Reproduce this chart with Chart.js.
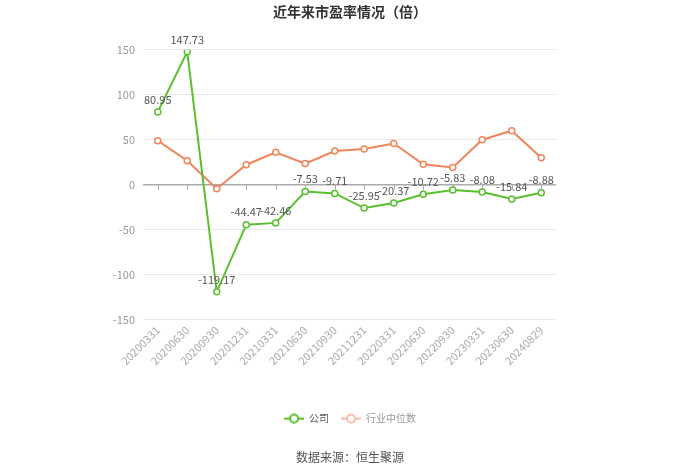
<!DOCTYPE html>
<html>
<head>
<meta charset="utf-8">
<script src="https://cdn.jsdelivr.net/npm/chart.js@4.4.1/dist/chart.umd.min.js"></script>
<style>
html,body{margin:0;padding:0;background:#fff;}
#wrap{width:700px;height:474px;position:relative;}
</style>
</head>
<body>
<div id="wrap"><canvas id="c" width="700" height="474"></canvas></div>
<script>
const categories = ["20200331","20200630","20200930","20201231","20210331","20210630","20210930","20211231","20220331","20220630","20220930","20230331","20230630","20240829"];
const companyPE = [80.95,147.73,-119.17,-44.47,-42.46,-7.53,-9.71,-25.95,-20.37,-10.72,-5.83,-8.08,-15.84,-8.88];
const industryPE = [49,26.7,-4.5,22.2,36,23.5,37.5,39.7,45.8,22.8,19.2,50,60,30];
const yTicks = [-150,-100,-50,0,50,100,150];

const GREEN = '#5ABF2E';
const ORANGE = '#F0845A';
const FONT = '"Noto Sans CJK SC", "Microsoft YaHei", sans-serif';

function legendMarker(color){
  const cv = document.createElement('canvas');
  cv.width = 20; cv.height = 12;
  const g = cv.getContext('2d');
  g.strokeStyle = color; g.lineWidth = 2;
  g.beginPath(); g.moveTo(0,6); g.lineTo(20,6); g.stroke();
  g.fillStyle = '#fff';
  g.beginPath(); g.arc(10,6,4,0,Math.PI*2); g.fill(); g.stroke();
  return cv;
}

const labelPlugin = {
  id: 'valueLabels',
  afterDatasetsDraw(chart){
    const ctx = chart.ctx;
    const meta = chart.getDatasetMeta(0);
    ctx.save();
    ctx.font = '11px ' + FONT;
    ctx.fillStyle = '#555';
    ctx.textAlign = 'center';
    ctx.textBaseline = 'bottom';
    meta.data.forEach((pt, i) => {
      ctx.fillText(companyPE[i].toFixed(2), pt.x, pt.y - 7);
    });
    ctx.restore();
  }
};

const zeroTicks = {
  id: 'zeroTicks',
  beforeDatasetsDraw(chart){
    const ctx = chart.ctx;
    const x = chart.scales.x, y = chart.scales.y;
    const y0 = y.getPixelForValue(0);
    ctx.save();
    ctx.strokeStyle = '#aaa';
    ctx.lineWidth = 1;
    ctx.beginPath();
    categories.forEach((c, i) => {
      const px = Math.round(x.getPixelForValue(i)) + 0.5;
      ctx.moveTo(px, y0); ctx.lineTo(px, y0 + 5);
    });
    ctx.stroke();
    ctx.restore();
  }
};

new Chart(document.getElementById('c'), {
  type: 'line',
  data: {
    labels: categories,
    datasets: [
      {
        label: '公司',
        data: companyPE,
        borderColor: GREEN,
        backgroundColor: '#fff',
        borderWidth: 2,
        pointRadius: 3,
        pointBorderWidth: 1.5,
        pointBackgroundColor: '#fff',
        pointBorderColor: GREEN,
        tension: 0,
        yAxisID: 'y'
      },
      {
        label: '行业中位数',
        data: industryPE,
        borderColor: ORANGE,
        backgroundColor: '#fff',
        borderWidth: 2,
        pointRadius: 3,
        pointBorderWidth: 1.5,
        pointBackgroundColor: '#fff',
        pointBorderColor: ORANGE,
        tension: 0,
        yAxisID: 'y'
      }
    ]
  },
  options: {
    responsive: false,
    animation: false,
    layout: { padding: { left: 0, right: 0, top: 0, bottom: 7 } },
    plugins: {
      title: {
        display: true,
        text: '近年来市盈率情况（倍）',
        color: '#333',
        font: { family: FONT, size: 14, weight: 'bold' },
        padding: { top: 3, bottom: 30 }
      },
      subtitle: {
        display: true,
        position: 'bottom',
        text: '数据来源：恒生聚源',
        color: '#555',
        font: { family: FONT, size: 12, weight: 'normal' },
        padding: { top: 17, bottom: 2 }
      },
      legend: {
        position: 'bottom',
        labels: {
          usePointStyle: true,
          pointStyleWidth: 20,
          boxHeight: 12,
          font: { family: FONT, size: 10 },
          padding: 12,
          generateLabels(chart){
            return [
              { text: '公司', pointStyle: legendMarker(GREEN), fontColor: '#555', datasetIndex: 0, hidden: false, lineWidth: 0, strokeStyle: GREEN, fillStyle: GREEN },
              { text: '行业中位数', pointStyle: legendMarker('#F5BBA3'), fontColor: '#999', datasetIndex: 1, hidden: false, lineWidth: 0, strokeStyle: ORANGE, fillStyle: ORANGE }
            ];
          }
        }
      },
      tooltip: { enabled: false }
    },
    scales: {
      x: {
        offset: true,
        grid: { display: false, drawTicks: false },
        border: { display: false },
        ticks: {
          color: '#aaa',
          font: { family: FONT, size: 11 },
          maxRotation: 45,
          minRotation: 45,
          padding: 4
        },
        afterFit(s){ s.height = 82; }
      },
      y: {
        min: -150,
        max: 150,
        afterBuildTicks(s){ s.ticks = yTicks.map(v => ({ value: v })); },
        grid: {
          color: ctx => (ctx.tick && ctx.tick.value === 0) ? '#aaa' : '#e8e8e8',
          lineWidth: ctx => (ctx.tick && ctx.tick.value === 0) ? 1.5 : 1,
          drawTicks: false
        },
        border: { display: false },
        ticks: {
          color: '#999',
          font: { family: FONT, size: 11 },
          padding: 8
        },
        afterFit(s){ s.width = 143; }
      },
      yRight: {
        position: 'right',
        display: true,
        min: -150,
        max: 150,
        grid: { display: false, drawTicks: false },
        border: { display: false },
        ticks: { display: false },
        afterFit(s){ s.width = 144; }
      }
    }
  },
  plugins: [zeroTicks, labelPlugin]
});
</script>
</body>
</html>
